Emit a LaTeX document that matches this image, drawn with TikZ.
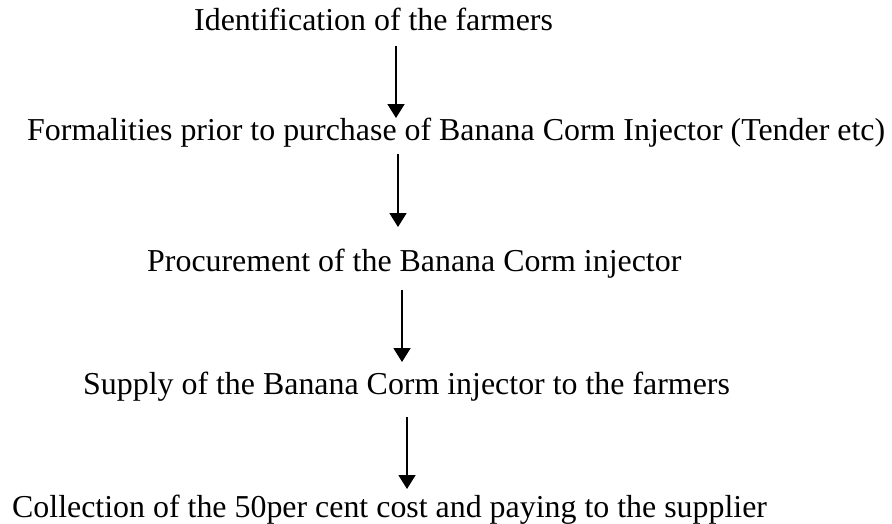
\documentclass[tikz,border=0pt]{standalone}
\usepackage{fontspec}
\setmainfont{Liberation Serif}
\usetikzlibrary{arrows.meta}
\begin{document}
\begin{tikzpicture}[x=1pt,y=-1pt,
  lbl/.style={anchor=base west,inner sep=0pt,font=\fontsize{31.9}{36}\selectfont},
  flowarrow/.style={line width=1.7pt,-{Triangle[length=14pt,width=17pt]}}]
\useasboundingbox (0,0) rectangle (892,523);
\node[lbl] (n1) at (194,30) {Identification of the farmers};
\node[lbl] (n2) at (27,140) {Formalities prior to purchase of Banana Corm Injector (Tender etc)};
\node[lbl] (n3) at (147,271) {Procurement of the Banana Corm injector};
\node[lbl] (n4) at (83,394) {Supply of the Banana Corm injector to the farmers};
\node[lbl] (n5) at (12,517) {Collection of the 50per cent cost and paying to the supplier};
\coordinate (a1s) at (396,46);  \coordinate (a1e) at (396,118);
\coordinate (a2s) at (398,154); \coordinate (a2e) at (398,227);
\coordinate (a3s) at (402,290); \coordinate (a3e) at (402,362);
\coordinate (a4s) at (407,417); \coordinate (a4e) at (407,489);
\draw[flowarrow] (a1s) -- (a1e);
\draw[flowarrow] (a2s) -- (a2e);
\draw[flowarrow] (a3s) -- (a3e);
\draw[flowarrow] (a4s) -- (a4e);
\end{tikzpicture}
\end{document}
